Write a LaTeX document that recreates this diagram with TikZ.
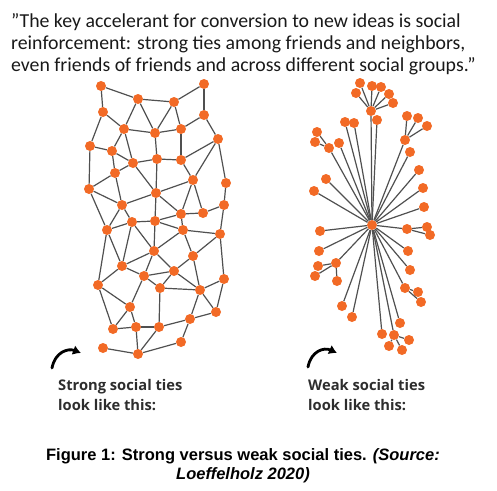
\documentclass[tikz,border=0pt]{standalone}
\usepackage{fontspec}
\setmainfont{Carlito}
\newfontfamily\labelfont{Open Sans}
\newfontfamily\capfont{Liberation Sans}
\usetikzlibrary{arrows.meta}

\definecolor{dotorange}{RGB}{242,106,38}
\definecolor{tiegray}{RGB}{80,80,80}
\definecolor{labelgray}{RGB}{45,45,45}

\tikzset{
  dot/.style={circle,fill=dotorange,draw=none,inner sep=0pt,minimum size=10pt},
  tie/.style={draw=tiegray,line width=1.2pt},
  quote/.style={inner sep=0pt,font=\fontsize{19.8}{22}\selectfont,text=black!90},
  tielabel/.style={inner sep=0pt,font=\labelfont\bfseries\fontsize{14.7}{20}\selectfont,text=labelgray},
  figcap/.style={inner sep=0pt,font=\capfont\bfseries\fontsize{16.5}{19}\selectfont},
  curlarrow/.style={line width=2.8pt,line cap=round,-{Latex[length=8pt,width=10pt]}}
}

\begin{document}
\begin{tikzpicture}[x=1pt,y=-1pt]
  \useasboundingbox (0,0) rectangle (497,490);

  % quote
  \node[quote,anchor=base west] (q1) at (11,27) {”The key accelerant for conversion to new ideas is social};
  \node[quote,anchor=base west] (q2) at (11,49) {reinforcement: strong ties among friends and neighbors,};
  \node[quote,anchor=base west] (q3) at (11,71) {even friends of friends and across different social groups.”};

  % strong ties: a mesh
  \foreach \n/\x/\y in {a1/101/86, a2/138/99, a3/174/102, a4/204/84,
      b1/103/112, b2/204/115,
      c1/124/129, c2/155/133, c3/181/129, c4/218/139,
      d1/90/146, d2/112/151, d3/133/163, d4/157/159, d5/181/160,
      e1/115/173, e2/193/180, e3/226/183,
      f1/89/189, f2/156/193,
      g1/122/205, g2/224/205, g3/181/214, g4/203/213,
      h1/132/222, h2/155/221,
      i1/107/230, i2/183/230, i3/220/234,
      j1/154/251, j2/193/256,
      k1/122/266, k2/174/271, k3/144/276, k4/224/279,
      l1/98/285, l2/160/288, l3/200/290,
      m1/130/307, m2/216/312, m3/190/319,
      n1/113/329, n2/136/327, n3/159/327,
      o1/181/342, o2/103/348, o3/138/354}{
    \node[dot] (\n) at (\x,\y) {};
  }

  \foreach \p/\q in {a1/a2, a1/b1, a2/a3, a3/a4, a4/b2,
      a2/c1, a2/c2, a3/c2, a3/c3, b1/c1, b1/d1, b2/c3, b2/c4,
      c1/c2, c2/c3, c1/d2, c1/d3, c2/d4, c3/d5, c4/d5, c4/e2, c4/e3,
      d1/d2, d1/f1, d2/d3, d2/e1, d3/d4, d4/d5, d3/e1, d3/f2, d4/f2, d5/e2,
      e1/f1, e1/g1, e2/f2, e2/g3, e2/g4, e3/g2,
      f1/g1, f1/i1, f2/g1, f2/g3, f2/h2,
      g1/h1, g1/i1, g2/g4, g3/g4, g3/h2, g3/i2, g2/i3,
      h1/h2, h1/i1, h1/j1, h1/k1, h2/i2, h2/j1,
      i1/k1, i1/l1, i2/i3, i2/j1, i2/j2, i3/j2, i3/k4,
      j1/k1, j1/k2, j1/k3, j2/k2, j2/l3,
      k1/k3, k1/l1, k2/k3, k2/l2, k2/l3, k3/l2, k3/m1, k4/l3, k4/m2,
      l1/m1, l1/n1, l2/l3, l2/n3, l3/m2, l3/m3, m2/m3,
      m1/n1, m1/n2, n1/n2, n2/n3, n3/m3, m3/o1, n2/o3, n3/o3, o1/o3, o2/o3}{
    \draw[tie] (\p) -- (\q);
  }

  % weak ties: a star
  \node[dot] (hub) at (372,225) {};

  \foreach \n/\x/\y in {s1/371/111, s2/377/120, s3/345/122, s4/354/123,
      s5/329/148, s6/339/143, s7/405/140, s8/410/152,
      s9/326/179, s10/314/191, s11/419/170, s12/423/188, s13/424/207,
      s14/320/231, s15/407/229, s16/319/251, s17/408/251,
      s18/336/263, s19/410/270, s20/405/288,
      s21/342/306, s22/352/317, s23/400/323, s24/382/334, s25/394/335}{
    \node[dot] (\n) at (\x,\y) {};
    \draw[tie] (hub) -- (\n);
  }

  \foreach \n/\x/\y/\p in {t1/360/83/s1, t2/372/86/s1, t3/381/87/s1,
      t4/389/94/s1, t5/356/93/s1, t6/393/103/s1,
      t7/317/132/s5, t8/315/142/s5,
      t9/407/116/s7, t10/418/118/s7, t11/427/126/s7,
      t12/427/227/s15, t13/430/235/s15,
      t14/318/266/s18, t15/315/276/s18, t16/337/281/s18,
      t17/418/292/s20, t18/421/302/s20,
      t19/389/346/s25, t20/402/350/s25, t21/409/340/s25}{
    \node[dot] (\n) at (\x,\y) {};
    \draw[tie] (\p) -- (\n);
  }

  % curled arrows
  \coordinate (la0) at (52,368);
  \coordinate (la1) at (81,353);
  \draw[curlarrow] (la0) .. controls (55,352) and (68,348) .. (la1);
  \coordinate (ra0) at (308,367);
  \coordinate (ra1) at (337,353);
  \draw[curlarrow] (ra0) .. controls (311,351) and (324,347) .. (ra1);

  % labels
  \node[tielabel,anchor=base west] (sl1) at (58,390) {Strong social ties};
  \node[tielabel,anchor=base west] (sl2) at (58,410) {look like this:};
  \node[tielabel,anchor=base west] (wl1) at (308,390) {Weak social ties};
  \node[tielabel,anchor=base west] (wl2) at (308,410) {look like this:};

  % caption
  \node[figcap,anchor=base] (cap1) at (243,460) {Figure 1: Strong versus weak social ties. \textit{(Source:}};
  \node[figcap,anchor=base] (cap2) at (243,479) {\textit{Loeffelholz 2020)}};
\end{tikzpicture}
\end{document}
